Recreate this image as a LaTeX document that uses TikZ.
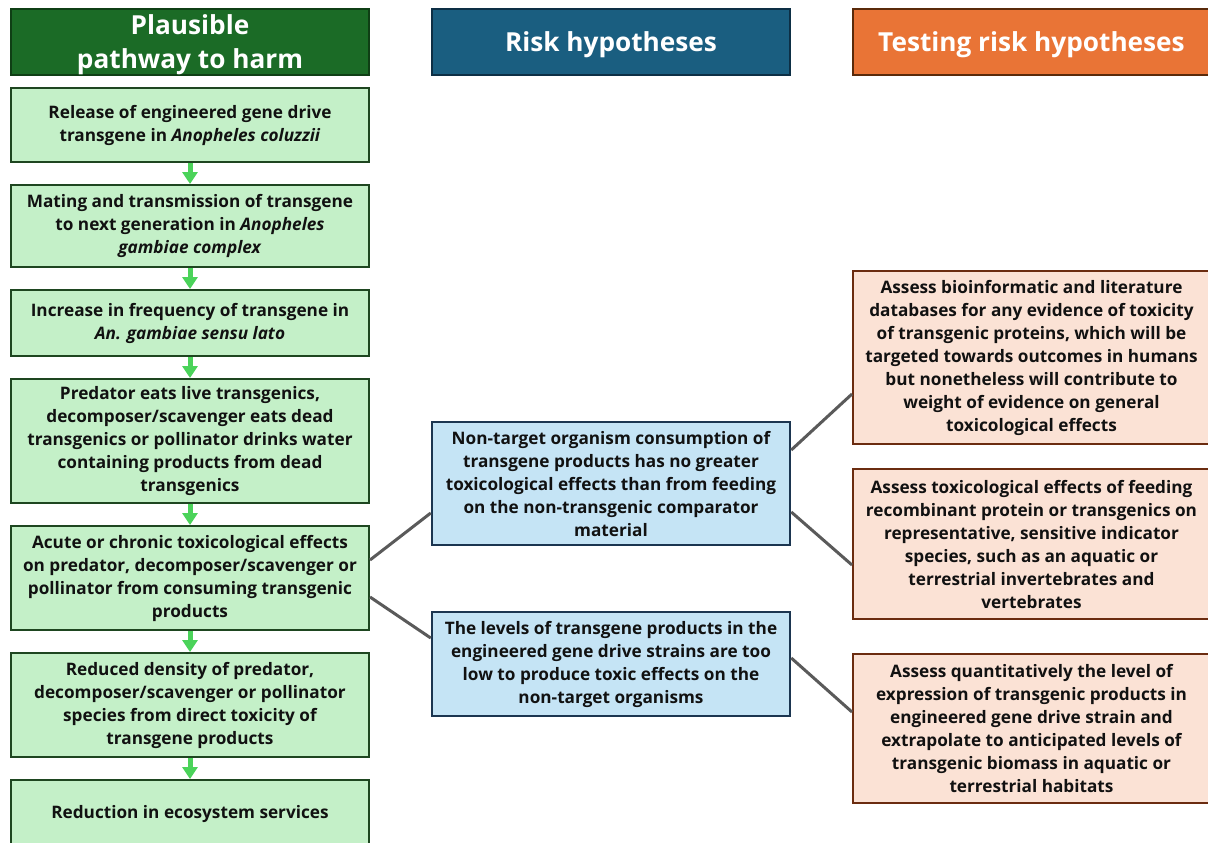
\documentclass[tikz,border=0pt]{standalone}
\usepackage{fontspec}
\setmainfont{Open Sans}
\usetikzlibrary{arrows.meta}

\definecolor{hdgreen}{HTML}{1B6B26}
\definecolor{hdgreenline}{HTML}{0F3F15}
\definecolor{hdblue}{HTML}{1A5E80}
\definecolor{hdblueline}{HTML}{0D2F45}
\definecolor{hdorange}{HTML}{E97436}
\definecolor{hdorangeline}{HTML}{5A2A0A}
\definecolor{pathfill}{HTML}{C4F0C8}
\definecolor{pathline}{HTML}{1E4620}
\definecolor{hypfill}{HTML}{C5E4F5}
\definecolor{hypline}{HTML}{1B3550}
\definecolor{testfill}{HTML}{FBE2D5}
\definecolor{testline}{HTML}{6B2C10}
\definecolor{flowgreen}{HTML}{4BD35A}
\definecolor{linkgrey}{HTML}{5A5A5A}
\definecolor{bodytext}{HTML}{111111}

\tikzset{
  box/.style={rectangle, inner sep=0pt, align=center, line width=2pt,
    font=\fontsize{17.2}{23}\selectfont\bfseries, text=bodytext},
  header/.style={rectangle, minimum height=66pt, line width=2pt},
  headertext/.style={align=center, inner sep=0pt, text=white,
    font=\fontsize{26.2}{34}\selectfont\bfseries},
  pathbox/.style={box, fill=pathfill, draw=pathline, minimum width=358pt},
  hypbox/.style={box, fill=hypfill, draw=hypline, line width=2.5pt, minimum width=358pt},
  testbox/.style={box, fill=testfill, draw=testline, minimum width=357pt},
  flow/.style={draw=flowgreen, line width=5pt,
    -{Triangle[width=15pt, length=12pt]}},
  link/.style={draw=linkgrey, line width=3pt},
}

\begin{document}
\begin{tikzpicture}[x=1pt, y=-1pt]
\useasboundingbox (0,0) rectangle (1208,843);

% column headers
\node[header, fill=hdgreen, draw=hdgreenline, minimum width=358pt] (h1) at (190,42) {};
\node[headertext] (h1t) at ([yshift=-2.5pt]h1.center) {Plausible\\pathway to harm};
\node[header, fill=hdblue, draw=hdblueline, minimum width=358pt] (h2) at (611,42) {};
\node[headertext] (h2t) at ([yshift=-2.5pt]h2.center) {Risk hypotheses};
\node[header, fill=hdorange, draw=hdorangeline, minimum width=357pt] (h3) at (1031.5,42) {};
\node[headertext] (h3t) at ([yshift=-2.5pt]h3.center) {Testing risk hypotheses};

% pathway to harm
\node[pathbox, minimum height=74pt] (p1) at (190,125)
  {Release of engineered gene drive\\transgene in \textit{Anopheles coluzzii}};
\node[pathbox, minimum height=82pt] (p2) at (190,226)
  {Mating and transmission of transgene\\to next generation in \textit{Anopheles}\\\textit{gambiae complex}};
\node[pathbox, minimum height=66pt] (p3) at (190,323)
  {Increase in frequency of transgene in\\\textit{An. gambiae sensu lato}};
\node[pathbox, minimum height=124pt] (p4) at (190,441)
  {Predator eats live transgenics,\\decomposer/scavenger eats dead\\transgenics or pollinator drinks water\\containing products from dead\\transgenics};
\node[pathbox, minimum height=104pt] (p5) at (190,578)
  {Acute or chronic toxicological effects\\on predator, decomposer/scavenger or\\pollinator from consuming transgenic\\products};
\node[pathbox, minimum height=104pt] (p6) at (190,705)
  {Reduced density of predator,\\decomposer/scavenger or pollinator\\species from direct toxicity of\\transgene products};
\node[pathbox, minimum height=68pt] (p7) at (190,814)
  {Reduction in ecosystem services};

\foreach \a/\b in {p1/p2, p2/p3, p3/p4, p4/p5, p5/p6, p6/p7}
  \draw[flow] (\a.south) -- (\b.north);

% risk hypotheses
\node[hypbox, minimum height=123pt] (r1) at (611,483.5)
  {Non-target organism consumption of\\transgene products has no greater\\toxicological effects than from feeding\\on the non-transgenic comparator\\material};
\node[hypbox, minimum height=104pt] (r2) at (611,664)
  {The levels of transgene products in the\\engineered gene drive strains are too\\low to produce toxic effects on the\\non-target organisms};

% tests of the hypotheses
\node[testbox, minimum height=173pt] (t1) at (1031.5,357.5)
  {Assess bioinformatic and literature\\databases for any evidence of toxicity\\of transgenic proteins, which will be\\targeted towards outcomes in humans\\but nonetheless will contribute to\\weight of evidence on general\\toxicological effects};
\node[testbox, minimum height=150pt] (t2) at (1031.5,544)
  {Assess toxicological effects of feeding\\recombinant protein or transgenics on\\representative, sensitive indicator\\species, such as an aquatic or\\terrestrial invertebrates and\\vertebrates};
\node[testbox, minimum height=149pt] (t3) at (1031.5,728.5)
  {Assess quantitatively the level of\\expression of transgenic products in\\engineered gene drive strain and\\extrapolate to anticipated levels of\\transgenic biomass in aquatic or\\terrestrial habitats};

% links between columns
\draw[link] ([yshift=18pt]p5.east) -- ([yshift=-29.5pt]r1.west);
\draw[link] ([yshift=-19pt]p5.east) -- ([yshift=26pt]r2.west);
\draw[link] ([yshift=33.5pt]r1.east) -- ([yshift=-36.5pt]t1.west);
\draw[link] ([yshift=-28.5pt]r1.east) -- ([yshift=-21pt]t2.west);
\draw[link] ([yshift=6pt]r2.east) -- ([yshift=16.5pt]t3.west);
\end{tikzpicture}
\end{document}
